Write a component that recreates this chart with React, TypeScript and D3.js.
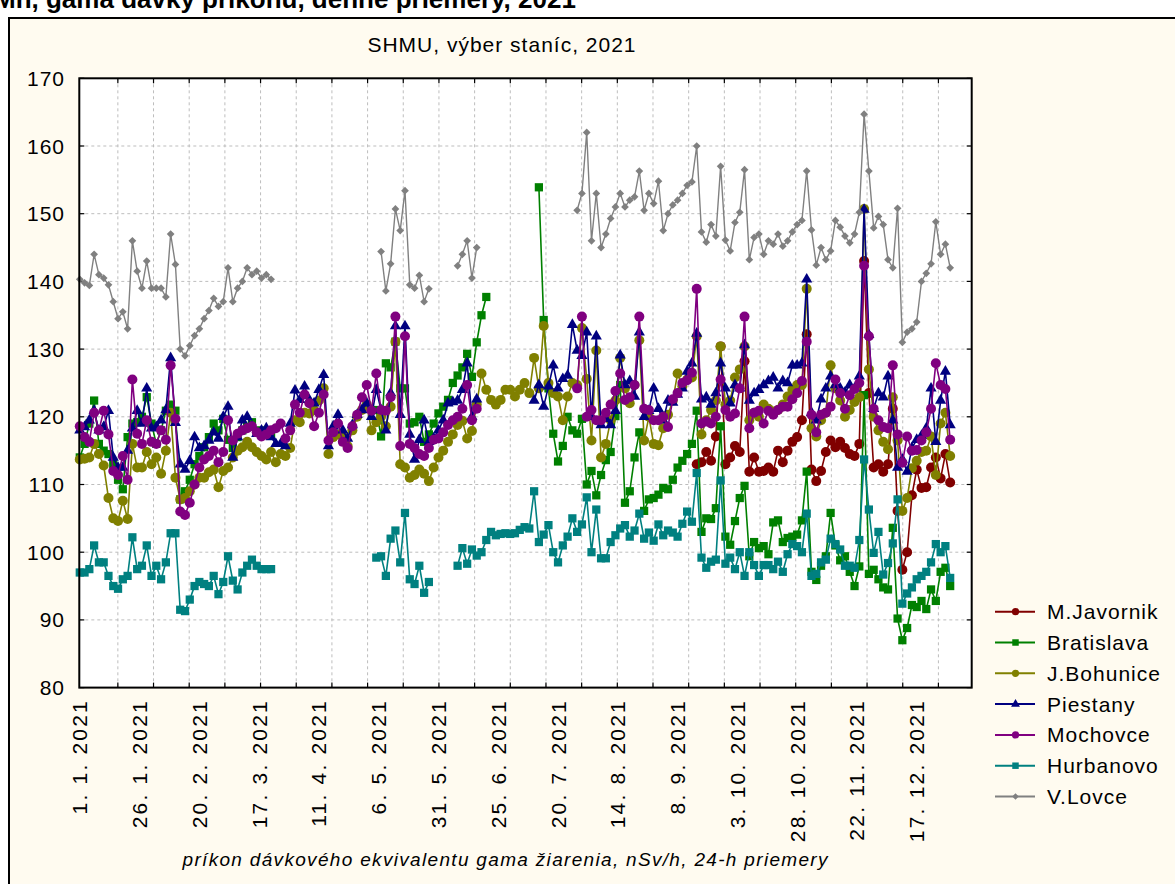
import React from "react";
import * as d3 from "d3";

// Dávkový príkon gama žiarenia – denné priemery, 2021 (hodnoty každý 2. deň)
const _ = null;
const gap = (n: number) => Array(n).fill(null);

const DAYS = d3.range(0, 365, 2);

const X_LABEL_DAYS = [0, 25, 50, 75, 100, 125, 150, 175, 200, 225, 250, 275, 300, 325, 350];
const X_LABELS = [
    "1. 1. 2021", "26. 1. 2021", "20. 2. 2021", "17. 3. 2021", "11. 4. 2021",
    "6. 5. 2021", "31. 5. 2021", "25. 6. 2021", "20. 7. 2021", "14. 8. 2021",
    "8. 9. 2021", "3. 10. 2021", "28. 10. 2021", "22. 11. 2021", "17. 12. 2021",
];
const Y_TICKS = [80, 90, 100, 110, 120, 130, 140, 150, 160, 170];

const M_JAVORNIK: (number | null)[] = [
    ...gap(129),
    113, 113.3, 114.8, 113.5, 117.1, 130.4, 113, 114, 115.7, 114.8,
    128.2, 111.9, 114, 111.9, 112, 112.5, 111.9, 115, 113.3, 115,
    116.3, 117, 119.5, 132.2, 112.2, 110.5, 112, 114.8, 116.5, 115.5,
    116.3, 115.4, 114.5, 114.2, 116, 143, 123.5, 112.5, 113, 111.9,
    113, 121.2, 106.1, 97.4, 100, 108.4, 112.2, 109.5, 109.6, 112.5,
    114, 110.9, 114.5, 110.3,
];

const BRATISLAVA: (number | null)[] = [
    114, 116, 119, 122.4, 116, 115, 114.5, 113, 110.7, 109.3,
    117, 119, 119.2, 120, 122.9, 119, 116, 118, 120.9, 121.8,
    120.9, 107.8, 109, 110.7, 113, 114.2, 115.5, 117, 119, 118,
    119.7, 116.6, 115.4, 117, 118, 118.5, 119.2, 118, 117.5, 118,
    117.5, _, _, _, _, _, _, _, _, _,
    _, _, _, _, _, _, _, _, _, _,
    _, _, 121, 117.1, 127.9, 127.3, 131.1, 124.2, 124.2, 119,
    119.2, 120, 116.3, 117.4, 119, 120.5, 121.5, 122.5, 125, 126.1,
    127.3, 129.3, 125.9, 131, 135, 137.7, _, _, _, _,
    _, _, _, _, _, _, 153.9, 134.3, 124.2, 117.5,
    113.4, 115.7, 120, 118, 117.5, 119.7, 110, 112, 108.4, 111.4,
    113.6, 114.8, 120.1, 124.7, 107.3, 109, 114, 117.7, 106.1, 107.8,
    108, 108.5, 109.5, 109.3, 110.7, 112.5, 113.5, 114.5, 116, 120.9,
    103, 105, 104.9, 106.5, 118.6, 102.3, 101.1, 104.6, 108, 109.8,
    99.4, 101.5, 100.6, 100.9, 99.7, 104.4, 104.7, 101.5, 102.1, 102.3,
    102.6, 104.7, 111.9, 97.1, 95.9, 98, 99.4, 105.8, 101, 98.8,
    99.4, 97.1, 95, 97.9, 123.2, 96.8, 97.4, 96, 94.8, 94.5,
    103.6, 90.2, 87, 88.8, 92.2, 91.9, 92.8, 91.6, 94.5, 92.8,
    97.1, 97.7, 95,
];

const J_BOHUNICE: (number | null)[] = [
    113.7, 113.8, 114, 116, 114.5, 112.8, 108, 105, 104.6, 107.6,
    104.9, 116, 112.5, 112.5, 114.8, 113, 114, 111.6, 115, 120.6,
    111, 107.8, 108, 109, 110, 111, 111, 111.8, 112.2, 109.6,
    112, 112.5, 114, 115, 115.5, 116.3, 115.5, 114.8, 114.2, 113.7,
    114.8, 113.3, 114.5, 114.2, 115.4, 119.5, 119.2, 120.6, 120.5, 121,
    122.4, 124.2, 114.5, 117, 117.4, 117.1, 115.7, 118, 120, 121,
    121.8, 118, 119.2, 120, 118.6, 121.5, 131.1, 113, 112.5, 111,
    111.4, 112.2, 111.6, 110.5, 112.5, 114, 115, 116.3, 117.4, 118.8,
    119.4, 116.8, 117.9, 121.8, 126.4, 124, 122.5, 121.8, 122.5, 124,
    124, 123, 124, 125, 123.5, 128.7, 124.2, 133.4, 125, 123.5,
    123, 119.5, 123, 125, 124.7, 133.1, 125.6, 116.5, 129.8, 114,
    116, 119.5, 122.4, 128.7, 124.2, 122, 124.7, 131.3, 116.5, 120,
    116, 115.8, 118.3, 120.3, 122.4, 126.4, 124.5, 125.5, 125.8, 131.9,
    117.4, 119.5, 121, 122.4, 130.4, 121.8, 122.4, 125.8, 127, 130.4,
    119.5, 120.6, 120, 121.8, 121.2, 120.8, 121, 121.8, 123, 124,
    124.7, 124.7, 138.9, 118.3, 117.1, 119.5, 120.6, 127.6, 124.2, 122.4,
    120, 121, 122.2, 122.9, 150.7, 127, 120, 118, 116.3, 115.2,
    122.9, 116.5, 106.1, 108, 112.4, 113.5, 114.8, 115, 117.1, 111.4,
    119, 120.6, 114.2,
];

const PIESTANY: (number | null)[] = [
    118, 118.5, 119.5, 120.9, 118, 118.5, 120.9, 114, 112.5, 112.5,
    115, 118.3, 120.9, 119, 124.2, 118.3, 118.5, 119.5, 121, 128.7,
    119.1, 113, 112.2, 113.5, 117, 115.4, 115.7, 116.5, 117.7, 116.8,
    120, 121.5, 114, 117, 119.5, 120, 118.6, 117.5, 118, 118.3,
    117, 116, 116, 115.7, 119, 123.9, 122.5, 124.5, 122.5, 122,
    124, 126.2, 115.7, 118.6, 120.3, 118, 116.8, 118.8, 120.3, 121,
    122, 120, 124, 121, 118, 123.5, 133.4, 120.3, 133.4, 117.4,
    113.7, 116.6, 119.5, 116.3, 116.8, 118, 119.5, 122, 122.2, 122.4,
    124, 127.9, 120, 122.6, _, _, _, _, _, _,
    _, _, _, _, _, 122.4, 124.7, 121.5, 124.5, 127.6,
    124.2, 125.6, 126.1, 133.6, 129.8, 129, 132.5, 120, 131.9, 118.8,
    119.7, 118.8, 120.9, 129.1, 124.7, 125.3, 123, 132.5, 120, 120.9,
    124.2, 121.2, 119.5, 122.4, 122.1, 123.3, 124.2, 126.7, 127.9, 132.3,
    122.6, 122.9, 121.8, 123.5, 127.9, 124.2, 122, 124.7, 124.2, 130.6,
    122.4, 123.5, 124, 124.7, 125.3, 125.8, 124.2, 125.3, 125, 127.6,
    127.6, 127.9, 140.3, 120.6, 119.5, 122.6, 124.2, 126, 124.7, 124.2,
    123.6, 124.7, 124.2, 126, 150.6, 132.1, 121.2, 123.5, 122.9, 126,
    119.5, 112.5, 113.7, 111.9, 115.4, 116.6, 117.2, 118.3, 124.2, 116.3,
    122.4, 126.7, 118.8,
];

const MOCHOVCE: (number | null)[] = [
    118.6, 117, 116.3, 120.6, 118, 120.9, 117.4, 112, 111.4, 114.2,
    110.7, 125.5, 117.5, 116, 119.5, 116.3, 116, 118, 116.6, 127.6,
    119.7, 106, 105.5, 107.3, 110, 112.5, 113.7, 114.2, 115, 113.3,
    114.8, 119.5, 116.5, 117.5, 118, 118.3, 118.6, 117.7, 117.1, 117.4,
    118, 118.3, 119, 116.8, 118, 121.8, 120.6, 123.3, 122, 118.6,
    120.6, 123.3, 116.5, 117.7, 119, 116.3, 115.4, 118.6, 120.3, 122.9,
    124.7, 120.9, 126.4, 121, 120.9, 122.9, 134.8, 115.7, 131.9, 116,
    115.4, 114.5, 114.2, 115.4, 116.6, 116.8, 117.7, 118.8, 119.5, 120,
    121.2, 124.7, 119.5, 121.2, _, _, _, _, _, _,
    _, _, _, _, _, _, _, _, _, _,
    _, _, _, _, 124.2, 134.8, 120, 121, 119.5, 119.5,
    120.6, 121.8, 123.8, 126.4, 122.5, 122.9, 124.7, 134.8, 121.2, 121,
    119.5, 119.5, 120, 118.5, 122.6, 123.5, 125, 125.4, 126.5, 138.9,
    119, 119.3, 119, 120, 125.5, 121, 120, 120.5, 124.2, 134.8,
    118.3, 120.6, 120.9, 119, 120.9, 120.3, 121, 121.5, 121.5, 122.6,
    123.5, 125.3, 131.1, 120.3, 117.7, 120.3, 120.6, 121.5, 125.5, 123.5,
    121.2, 123.2, 124.1, 125, 142.3, 131.9, 121.2, 119.5, 118.5, 118.3,
    127.6, 117.4, 113.2, 117.1, 115, 115.1, 116.5, 117.7, 121.2, 127.9,
    124.7, 124.1, 116.6,
];

const HURBANOVO: (number | null)[] = [
    97, 97, 97.5, 101, 98.5, 98.5, 96.5, 95, 94.6, 96,
    96.5, 102.2, 97.5, 98, 101, 96.5, 98, 96, 98.5, 102.8,
    102.8, 91.5, 91.3, 93, 95, 95.6, 95.3, 95, 96.5, 93.8,
    95.6, 99.4, 95.8, 94.5, 97, 98, 98.9, 98, 97.5, 97.5,
    97.5, _, _, _, _, _, _, _, _, _,
    _, _, _, _, _, _, _, _, _, _,
    _, _, 99.2, 99.4, 96.5, 102, 103.2, 98.5, 105.8, 96,
    95.3, 98, 94, 95.6, _, _, _, _, _, 98,
    100.6, 98.3, 100.4, 99.5, 100, 101.8, 103, 102.5, 102.7, 102.8,
    102.7, 102.8, 103.3, 103.7, 103.5, 109, 101.5, 102.6, 104, 100,
    98.5, 101, 102.3, 105, 103, 104.1, 108.1, 100, 106.3, 99.1,
    99.1, 101.5, 102.5, 103.5, 104, 102.3, 103.2, 105.7, 102, 102.9,
    101.7, 104.1, 102.5, 103.2, 102.9, 102.3, 104.2, 106, 104.5, 111.7,
    99.2, 97.7, 98.6, 98.9, 110.6, 98.3, 99.2, 97.5, 100, 96.5,
    100, 98.1, 96.5, 98.1, 98.1, 97.5, 98.6, 97.1, 99.7, 101.2,
    100.9, 100, 105.7, 96.5, 96.8, 98.5, 98.9, 102, 101.2, 100.4,
    98, 98, 97.7, 101.8, 113.7, 106.3, 99.9, 103, 96.7, 98.4,
    101.3, 107.8, 92.4, 93.9, 94.8, 96, 96.5, 97.1, 98.5, 101.2,
    100, 100.9, 96.2,
];

const V_LOVCE: (number | null)[] = [
    140.3, 139.8, 139.4, 144, 141, 140.5, 139.5, 137, 134.5, 135.5,
    133, 146, 141.5, 139, 143, 139, 139, 139, 137.7, 147,
    142.5, 130, 129, 130.5, 132, 133, 134.5, 135.7, 137.5, 136.3,
    137, 142, 137, 139, 140, 142, 141, 141.5, 140.5, 141,
    140.3, _, _, _, _, _, _, _, _, _,
    _, _, _, _, _, _, _, _, _, _,
    _, _, _, 144.4, 138.6, 142.6, 150.7, 147.5, 153.4, 139.5,
    139, 140.9, 137, 138.9, _, _, _, _, _, 142.3,
    144, 146, 140.5, 145, _, _, _, _, _, _,
    _, _, _, _, _, _, _, _, _, _,
    _, _, _, _, 150.5, 153, 162, 146, 153, 145,
    147, 149.3, 151, 153, 151, 152, 152.5, 156.3, 150.5, 153,
    151.5, 154.8, 147.5, 150, 151.3, 152, 153, 154.2, 154.7, 160,
    147.3, 145.8, 148.4, 146.7, 157, 146.1, 144.5, 148.7, 150.2, 156.5,
    143.2, 146.5, 147, 144, 146, 145.5, 147, 145.2, 146, 147.3,
    148.4, 149, 156.3, 147.6, 142.4, 145, 143.2, 144.5, 149, 148,
    146.7, 145.7, 147, 150.2, 164.7, 156.3, 147.9, 149.6, 148.4, 143.2,
    142, 150.8, 131, 132.5, 133, 134, 140, 141.2, 142.6, 148.8,
    144, 145.5, 142,
];

type Marker = "circle" | "square" | "triangle" | "diamond";

const SERIES: { name: string; values: (number | null)[]; color: string; marker: Marker }[] = [
    { name: "M.Javornik", values: M_JAVORNIK, color: "#800000", marker: "circle" },
    { name: "Bratislava", values: BRATISLAVA, color: "#008000", marker: "square" },
    { name: "J.Bohunice", values: J_BOHUNICE, color: "#808000", marker: "circle" },
    { name: "Piestany", values: PIESTANY, color: "#000080", marker: "triangle" },
    { name: "Mochovce", values: MOCHOVCE, color: "#800080", marker: "circle" },
    { name: "Hurbanovo", values: HURBANOVO, color: "#008080", marker: "square" },
    { name: "V.Lovce", values: V_LOVCE, color: "#808080", marker: "diamond" },
];

const FONT = "'Liberation Sans', Arial, sans-serif";

const P = { left: 79.3, right: 971.7, top: 78.3, bottom: 687.6 };

const xScale = d3.scaleLinear().domain([-0.2, 373]).range([P.left, P.right]);
const yScale = d3.scaleLinear().domain([80, 170]).range([P.bottom, P.top]);

// mriežka: 25 intervalov cez os
const GRID_DAYS = d3.range(1, 25).map((k) => 1 + (k * 373) / 25);

const symPath = (m: Marker, big: boolean) => {
    if (m === "circle") return d3.symbol(d3.symbolCircle, Math.PI * (big ? 5 : 3.6) ** 2)()!;
    if (m === "square") return d3.symbol(d3.symbolSquare, big ? 68 : 42)()!;
    if (m === "triangle") return d3.symbol(d3.symbolTriangle, big ? 54 : 34)()!;
    return d3.symbol(d3.symbolSquare, big ? 30 : 22)()!;
};

type Pt = { d: number; v: number | null };

const App: React.FC = () => {
    const line = d3
        .line<Pt>()
        .defined((p) => p.v != null)
        .x((p) => xScale(p.d))
        .y((p) => yScale(p.v as number));

    return (
        <div style={{ position: "absolute", left: 0, top: 0, width: 1175, height: 884, overflow: "hidden", background: "#ffffff" }}>
            <svg width={1175} height={884} style={{ display: "block" }} fontFamily={FONT}>
                {/* nadpis nad rámom, z väčšej časti mimo obrázka */}
                <text x={-6} y={8} fontSize={26} fontWeight={700} fill="#000">
                    Mh, gama dávky príkonu, denné priemery, 2021
                </text>

                {/* rám grafu */}
                <rect x={9} y={18} width={1200} height={900} fill="#FFFBF0" stroke="#000" strokeWidth={2} />

                <text x={502} y={52} fontSize={21} letterSpacing={1} textAnchor="middle" fill="#000">
                    SHMU, výber staníc, 2021
                </text>

                {/* plocha grafu */}
                <rect x={P.left} y={P.top} width={P.right - P.left} height={P.bottom - P.top} fill="#fff" />

                {/* mriežka */}
                {Y_TICKS.slice(1, -1).map((t) => (
                    <line key={`gy${t}`} x1={P.left} x2={P.right} y1={yScale(t)} y2={yScale(t)}
                        stroke="#bdbdbd" strokeDasharray="3 3" strokeWidth={1} />
                ))}
                {GRID_DAYS.map((d, i) => (
                    <line key={`gx${i}`} x1={xScale(d)} x2={xScale(d)} y1={P.top} y2={P.bottom}
                        stroke="#bdbdbd" strokeDasharray="3 3" strokeWidth={1} />
                ))}

                {/* dieliky */}
                {GRID_DAYS.map((d, i) => (
                    <g key={`tx${i}`} stroke="#000" strokeWidth={1.2}>
                        <line x1={xScale(d)} x2={xScale(d)} y1={P.bottom} y2={P.bottom - 5} />
                        <line x1={xScale(d)} x2={xScale(d)} y1={P.top} y2={P.top + 5} />
                    </g>
                ))}
                {Y_TICKS.map((t) => (
                    <g key={`ty${t}`} stroke="#000" strokeWidth={1.2}>
                        <line x1={P.left} x2={P.left + 5} y1={yScale(t)} y2={yScale(t)} />
                        <line x1={P.right} x2={P.right - 5} y1={yScale(t)} y2={yScale(t)} />
                    </g>
                ))}

                {/* série */}
                {SERIES.map((s) => {
                    const pts: Pt[] = DAYS.map((d, i) => ({ d, v: s.values[i] ?? null }));
                    const sym = symPath(s.marker, true);
                    return (
                        <g key={s.name}>
                            <path d={line(pts) ?? ""} fill="none" stroke={s.color} strokeWidth={s.marker === "diamond" ? 1.4 : 1.6} />
                            {pts.filter((p) => p.v != null).map((p) => (
                                <path key={p.d} d={sym} fill={s.color}
                                    transform={`translate(${xScale(p.d)},${yScale(p.v as number)})${s.marker === "diamond" ? " rotate(45)" : ""}`} />
                            ))}
                        </g>
                    );
                })}

                {/* obrys plochy */}
                <rect x={P.left} y={P.top} width={P.right - P.left} height={P.bottom - P.top} fill="none" stroke="#000" strokeWidth={2} />

                {/* popisy osi Y */}
                {Y_TICKS.map((t) => (
                    <text key={`ly${t}`} x={65} y={yScale(t)} dy="0.36em" fontSize={21} letterSpacing={1} textAnchor="end" fill="#000">
                        {t}
                    </text>
                ))}

                {/* popisy osi X */}
                {X_LABELS.map((lab, i) => (
                    <text key={lab} transform={`translate(${xScale(X_LABEL_DAYS[i])},${699}) rotate(-90)`}
                        fontSize={21} letterSpacing={2.2} textAnchor="end" dominantBaseline="central" fill="#000">
                        {lab}
                    </text>
                ))}

                <text x={505} y={866} fontSize={19} fontStyle="italic" textAnchor="middle" textLength={645}
                    lengthAdjust="spacing" fill="#000">
                    príkon dávkového ekvivalentu gama žiarenia, nSv/h, 24-h priemery
                </text>

                {/* legenda */}
                {SERIES.map((s, i) => {
                    const ly = 611.7 + i * 30.8;
                    return (
                        <g key={`lg${s.name}`}>
                            <line x1={995} x2={1035} y1={ly} y2={ly} stroke={s.color} strokeWidth={2} />
                            <path d={symPath(s.marker, false)} fill={s.color}
                                transform={`translate(1015.5,${ly})${s.marker === "diamond" ? " rotate(45)" : ""}`} />
                            <text x={1047} y={ly} dy="0.36em" fontSize={21} letterSpacing={1} fill="#000">
                                {s.name}
                            </text>
                        </g>
                    );
                })}
            </svg>
        </div>
    );
};

export default App;
